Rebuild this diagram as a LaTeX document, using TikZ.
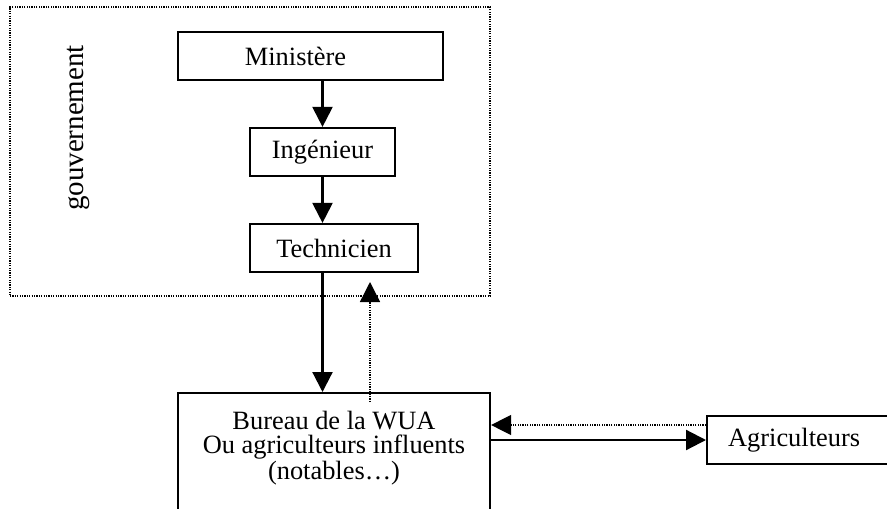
\documentclass[tikz,border=0pt]{standalone}
\usepackage{fontspec}
\setmainfont{Liberation Serif}
\usetikzlibrary{arrows.meta}
\begin{document}
\begin{tikzpicture}[x=0.5pt,y=-0.5pt,
  font=\fontsize{13.2}{12}\selectfont,
  box/.style={draw, line width=1.1pt, inner sep=0pt, minimum height=24pt},
  govbox/.style={draw, line width=0.8pt, dash pattern=on 0.6pt off 0.6pt, inner sep=0pt},
  arr/.style={line width=1.1pt, -{Triangle[length=10pt,width=10pt]}},
  dotarr/.style={line width=0.7pt, dash pattern=on 0.6pt off 0.6pt, -{Triangle[length=10pt,width=10pt]}}]
\useasboundingbox (0,0) rectangle (887,508);
\node[govbox, minimum width=240pt, minimum height=144.5pt] (gov) at (250,151.5) {};
\node[rotate=90, font=\fontsize{14.5}{14}\selectfont] (govlabel) at (78,128) {gouvernement};
\node[box, minimum width=132.5pt] (min) at (310.5,56) {Ministère\hspace*{15pt}};
\node[box, minimum width=72.5pt] (ing) at (322.5,152) {Ingénieur};
\node[box, minimum width=84pt] (tech) at (334,248) {Technicien};
\node[box, anchor=north, minimum width=156pt, align=center, inner ysep=9pt, text depth=70pt] (wua) at (334,392)
  {Bureau de la WUA\\Ou agriculteurs influents\\(notables…)};
\node[box, anchor=west, text width=120pt, align=left, inner xsep=10.5pt] (agri) at (706,440) {Agriculteurs};
\draw[arr] (ing.north |- min.south) -- (ing.north);
\draw[arr] (ing.south) -- (ing.south |- tech.north);
\draw[arr] (ing.south |- tech.south) -- (ing.south |- wua.north);
\coordinate (fbS) at (370,402);
\coordinate (fbE) at (370,282);
\draw[dotarr] (fbS) -- (fbE);
\draw[arr] (wua.east |- agri.west) -- (agri.west);
\coordinate (dr) at ([yshift=7.5pt]agri.west);
\draw[dotarr] (dr) -- (dr -| wua.east);
\end{tikzpicture}
\end{document}
